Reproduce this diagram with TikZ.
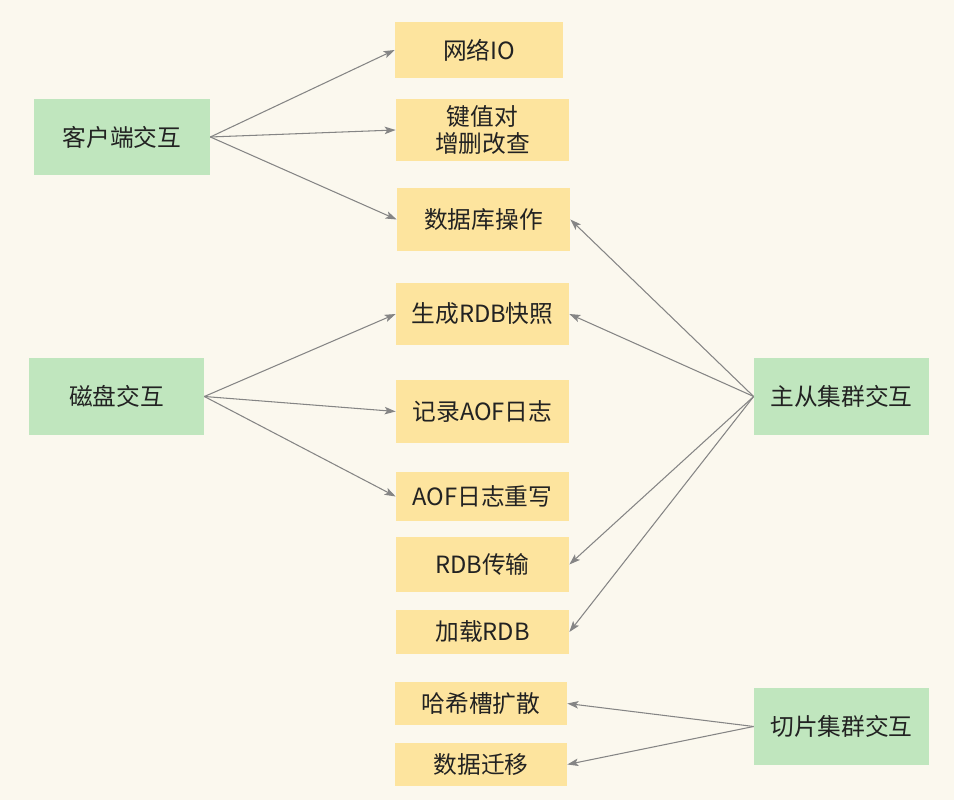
\documentclass[tikz,border=0pt]{standalone}
\usepackage{fontspec}
\setmainfont{Noto Sans CJK SC}
\usetikzlibrary{arrows.meta}
\begin{document}
\begin{tikzpicture}[font=\fontsize{13.5}{15.4}\selectfont,
  box/.style={inner sep=0pt,align=center,text=ink},
  grn/.style={box,fill=gr,minimum width=3.5cm,minimum height=1.54cm},
  ylw/.style={box,fill=yl},
  link/.style={draw=ln,line width=.6pt,-{Stealth[length=2.2mm,width=1.5mm,inset=.5mm]}}]
\definecolor{bg}{HTML}{FBF8EE}\definecolor{gr}{HTML}{C0E6BE}\definecolor{yl}{HTML}{FDE49E}\definecolor{ln}{HTML}{858585}\definecolor{ink}{HTML}{222222}
\fill[bg] (0,0) rectangle (19.08,16);
% interaction sources
\node[grn,minimum width=3.52cm,minimum height=1.52cm] (cli) at (2.44,13.26) {客户端交互};
\node[grn] (disk) at (2.33,8.07) {磁盘交互};
\node[grn] (repl) at (16.83,8.07) {主从集群交互};
\node[grn] (shard) at (16.83,1.47) {切片集群交互};
% operations
\foreach \name/\x/\y/\w/\h/\txt in {net/9.58/15.0/3.36/1.12/网络IO,kv/9.65/13.4/3.46/1.24/键值对\\增删改查,db/9.67/11.61/3.46/1.26/数据库操作,rdb/9.65/9.72/3.46/1.24/生成RDB快照,aof/9.65/7.77/3.46/1.26/记录AOF日志,rew/9.65/6.07/3.46/.98/AOF日志重写,trans/9.65/4.71/3.46/1.10/RDB传输,load/9.65/3.36/3.46/.88/加载RDB,hash/9.62/1.93/3.44/.86/哈希槽扩散,mig/9.62/.71/3.44/.86/数据迁移}{\node[ylw,minimum width=\w cm,minimum height=\h cm] (\name) at (\x,\y) {\txt};}
% connectors
\foreach \t in {net,kv,db}{\draw[link] (cli.east) -- (\t.west);}
\foreach \t in {rdb,aof,rew}{\draw[link] (disk.east) -- (\t.west);}
\foreach \t in {db,rdb,trans,load}{\draw[link] (repl.west) -- (\t.east);}
\foreach \t in {hash,mig}{\draw[link] (shard.west) -- (\t.east);}
\end{tikzpicture}
\end{document}
